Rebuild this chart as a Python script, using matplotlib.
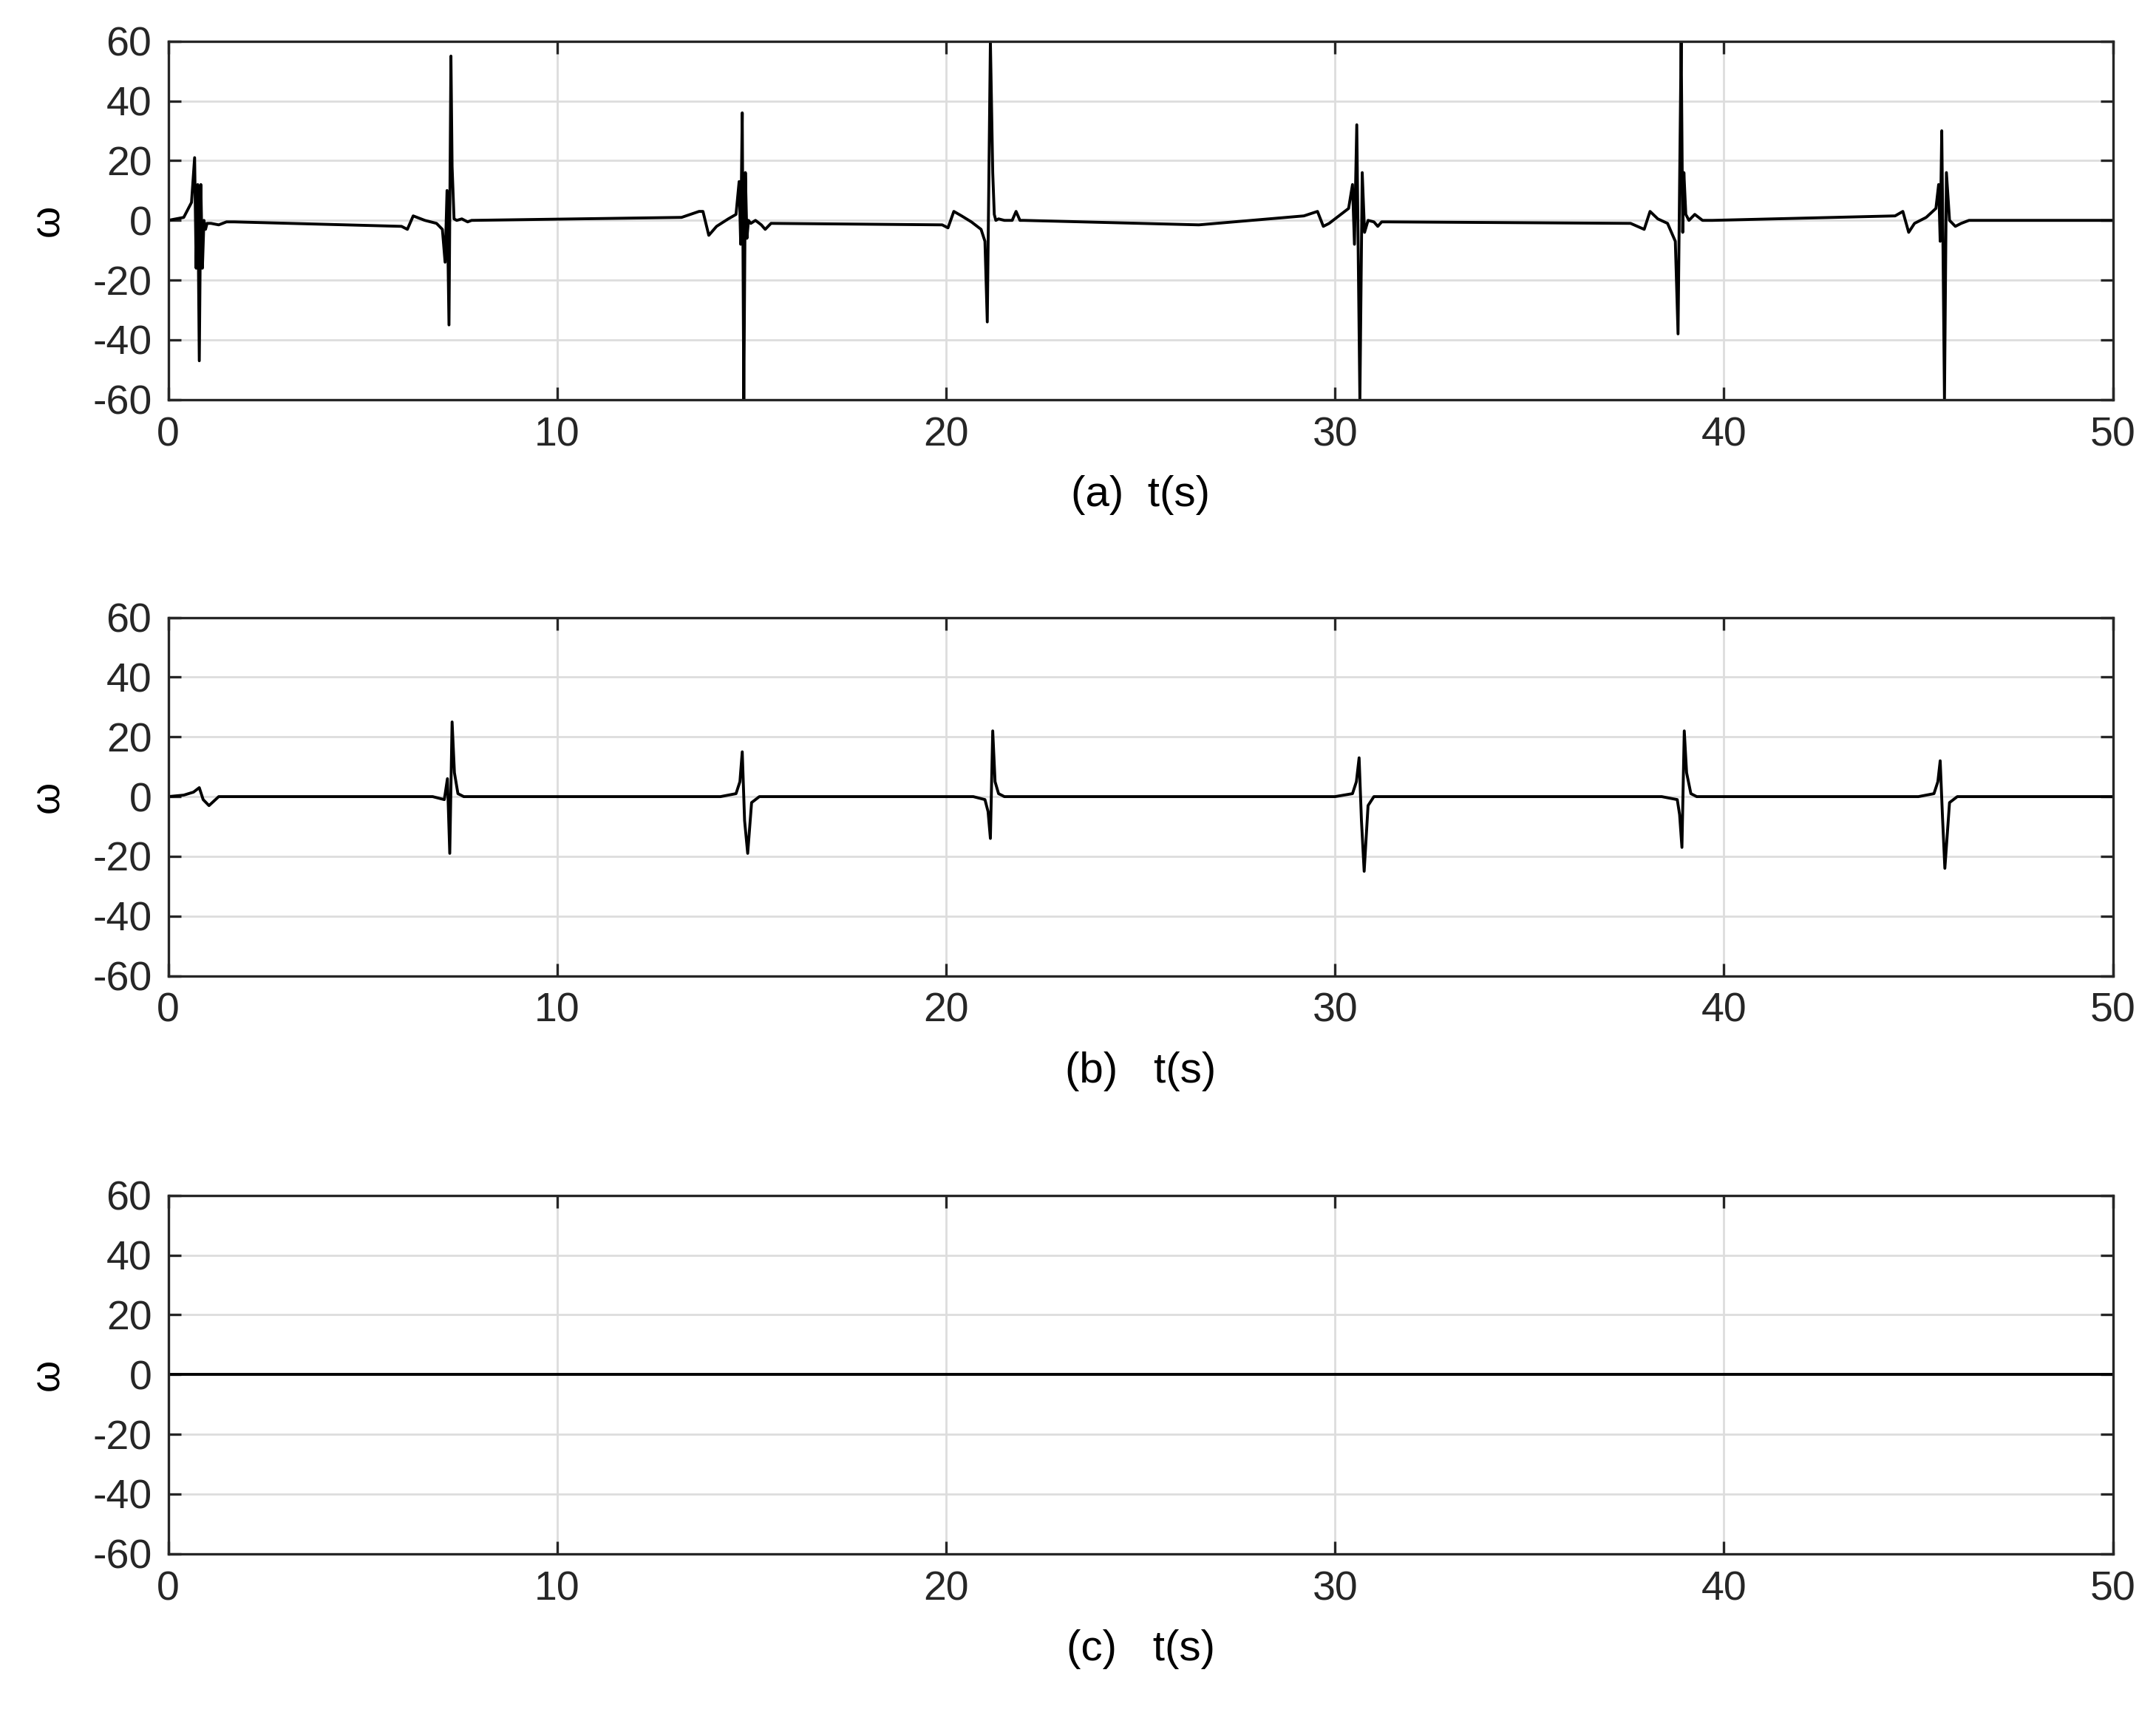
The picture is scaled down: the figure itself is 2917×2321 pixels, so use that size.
import matplotlib
matplotlib.use("Agg")
import matplotlib.pyplot as plt

plt.rcParams['font.family'] = ['Liberation Sans', 'DejaVu Sans']
plt.rcParams['axes.unicode_minus'] = False

# panel (a): angular velocity, sampled at key points
t_a = [0, 0.4, 0.6, 0.68, 0.72, 0.76, 0.8, 0.84, 0.88, 0.92, 0.96, 1.0, 1.1, 1.3, 1.5, 1.7, 6.0, 6.15, 6.3, 6.6, 6.9, 7.05, 7.12, 7.17, 7.22, 7.27, 7.3, 7.35, 7.42, 7.55, 7.7, 7.8,
       13.2, 13.65, 13.75, 13.9, 14.1, 14.4, 14.6, 14.68, 14.72, 14.76, 14.8, 14.84, 14.88, 14.92, 14.98, 15.1, 15.25, 15.35, 15.5,
       19.9, 20.05, 20.2, 20.4, 20.65, 20.9, 21.0, 21.06, 21.1, 21.14, 21.2, 21.24, 21.28, 21.35, 21.5, 21.7, 21.8, 21.9, 22.0,
       26.5, 29.2, 29.55, 29.7, 29.85, 30.1, 30.35, 30.45, 30.5, 30.56, 30.6, 30.64, 30.7, 30.76, 30.85, 31.0, 31.1, 31.2, 31.35,
       37.6, 37.95, 38.1, 38.3, 38.55, 38.75, 38.82, 38.86, 38.9, 38.94, 38.97, 39.02, 39.1, 39.25, 39.45, 39.55, 39.7,
       44.4, 44.6, 44.75, 44.9, 45.2, 45.45, 45.52, 45.56, 45.6, 45.63, 45.67, 45.72, 45.8, 45.95, 46.1, 46.3, 50]
w_a = [0, 1, 6, 21, -16, 12, -47, 12, -16, 0, -3, -1, -1, -1.5, -0.5, -0.5, -2, -3, 1.5, 0, -1, -3, -14, 10, -35, 55, 18, 0.5, 0, 0.5, -0.5, 0,
       1, 3, 3, -5, -2, 0.5, 2, 13, -8, 36, -60, 16, -6, 0, -1, 0, -1.5, -3, -1,
       -1.5, -2.5, 3, 1.5, -0.5, -3, -7, -34, 13, 60, 16, 2, 0, 0.5, 0, 0, 3, 0, 0,
       -1.5, 1.5, 3, -2, -1, 1.5, 4, 12, -8, 32, -14, -60, 16, -4, 0, -0.5, -2, -0.5, -0.5,
       -1, -3, 3, 0.5, -1, -7, -38, 12, 60, -4, 16, 2, 0, 2, 0, 0, 0,
       1.5, 3, -4, -1, 1, 4, 12, -7, 30, -6, -60, 16, 0, -2, -1, 0, 0]

# panel (b)
t_b = [0, 0.4, 0.65, 0.8, 0.9, 1.05, 1.3, 6.8, 7.1, 7.18, 7.24, 7.3, 7.36, 7.45, 7.6,
       14.2, 14.6, 14.7, 14.76, 14.82, 14.9, 15.0, 15.2, 20.7, 21.0, 21.08, 21.14, 21.2, 21.26, 21.35, 21.5,
       30.0, 30.45, 30.55, 30.62, 30.68, 30.75, 30.85, 31.0, 38.4, 38.8, 38.86, 38.92, 38.98, 39.04, 39.15, 39.3,
       45.0, 45.4, 45.5, 45.56, 45.62, 45.68, 45.8, 46.0, 50]
w_b = [0, 0.5, 1.5, 3, -1, -3, 0, 0, -1, 6, -19, 25, 8, 1, 0,
       0, 1, 5, 15, -8, -19, -2, 0, 0, -1, -5, -14, 22, 5, 1, 0,
       0, 1, 5, 13, -8, -25, -3, 0, 0, -1, -6, -17, 22, 8, 1, 0,
       0, 1, 5, 12, -7, -24, -2, 0, 0]

# panel (c): identically zero
t_c = [0, 50]
w_c = [0, 0]

panels = [(t_a, w_a, '(a)  t(s)'), (t_b, w_b, '(b)   t(s)'), (t_c, w_c, '(c)   t(s)')]
bottoms = [0.767, 0.431, 0.094]

fig = plt.figure(figsize=(14.585, 11.605), dpi=200)
for (t, w, lab), b in zip(panels, bottoms):
    ax = fig.add_axes([0.078, b, 0.902, 0.209])
    ax.plot(t, w, color='black', lw=1.4)
    ax.set_xlim(0, 50)
    ax.set_ylim(-60, 60)
    ax.set_xticks(range(0, 51, 10))
    ax.set_yticks(range(-60, 61, 20))
    ax.grid(True, color='#dddddd', lw=1)
    ax.set_axisbelow(True)
    ax.tick_params(direction='in', top=True, right=True, labelsize=20, length=6, width=1.2,
                   colors='#262626', pad=8)
    for s in ax.spines.values():
        s.set_linewidth(1.2)
        s.set_color('#262626')
    ax.set_xlabel(lab, fontsize=21, labelpad=10)
    ax.set_ylabel('ω', fontsize=20, labelpad=12)

fig.savefig('out.png', dpi=200)
